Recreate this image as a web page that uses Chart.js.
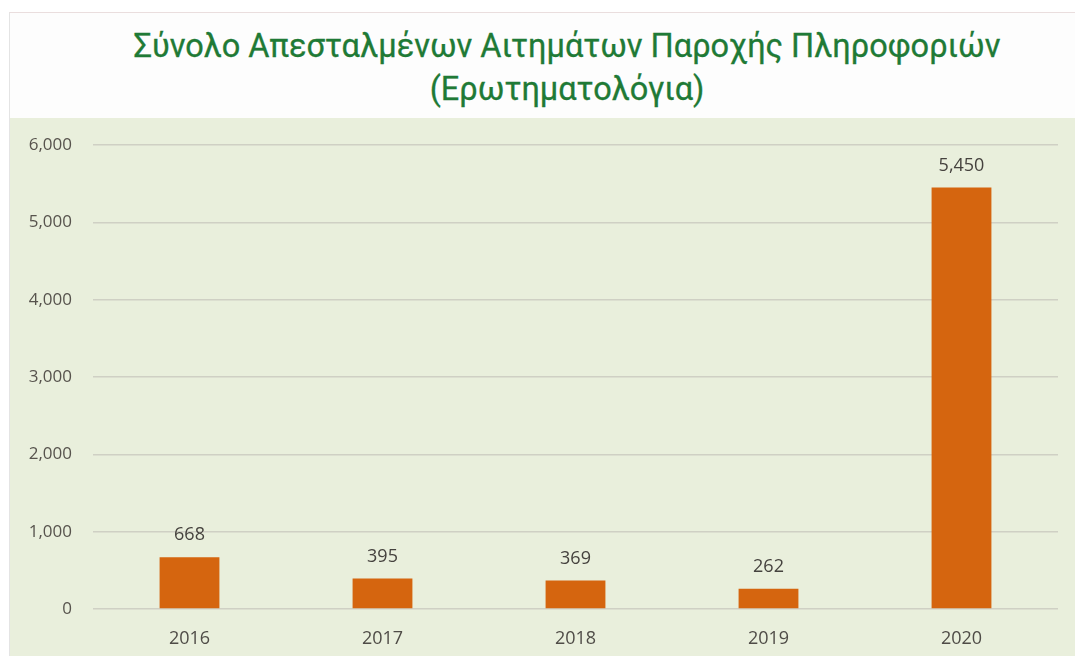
<!DOCTYPE html>
<html>
<head>
<meta charset="utf-8">
<script src="https://cdn.jsdelivr.net/npm/chart.js@4/dist/chart.umd.min.js"></script>
<style>
    html, body { margin: 0; padding: 0; background: #ffffff; }
    body { width: 1075px; height: 656px; overflow: hidden; position: relative; }
    .frame {
        position: absolute; left: 9px; top: 12px; width: 1066px; height: 644px;
        border-top: 1px solid #eadede; border-left: 1px solid #e4e4e4;
        background: #fdfdfd;
    }
    .title {
        height: 105px; box-sizing: border-box; padding: 12px 0 0 48px;
        text-align: center; color: #1f7a36; font-weight: 400;
        font-family: Roboto, "Noto Sans", sans-serif; font-size: 32.5px; line-height: 43px;
        -webkit-text-stroke: 0.3px #1f7a36;
    }
    .plot { position: relative; width: 1065px; height: 538px; background: #e9efdc; }
    .plot canvas { display: block; }
</style>
</head>
<body>
<div class="frame">
    <div class="title">Σύνολο Απεσταλμένων Αιτημάτων Παροχής Πληροφοριών<br>(Ερωτηματολόγια)</div>
    <div class="plot"><canvas id="requestsChart" width="1065" height="538"></canvas></div>
</div>
<script>
// Chart data
const years = ['2016', '2017', '2018', '2019', '2020'];
const requestCounts = [668, 395, 369, 262, 5450];
const yTicks = [0, 1000, 2000, 3000, 4000, 5000, 6000];

// wanted plot area edges inside the canvas
const areaTop = 27;
const areaBottom = 491;

function formatNumber(n) {
    return n.toLocaleString('en-US');
}

// Value labels above each bar
const barLabels = {
    id: 'barLabels',
    afterDatasetsDraw(chart) {
        const ctx = chart.ctx;
        const meta = chart.getDatasetMeta(0);
        ctx.save();
        ctx.font = '18px "Open Sans", sans-serif';
        ctx.fillStyle = '#45423e';
        ctx.textAlign = 'center';
        ctx.textBaseline = 'middle';
        meta.data.forEach((bar, i) => {
            ctx.fillText(formatNumber(requestCounts[i]), bar.x, bar.y - 22);
        });
        ctx.restore();
    }
};

const ctx = document.getElementById('requestsChart').getContext('2d');
const chart = new Chart(ctx, {
    type: 'bar',
    data: {
        labels: years,
        datasets: [{
            data: requestCounts,
            backgroundColor: '#d5650f',
            barPercentage: 0.31,
            categoryPercentage: 1
        }]
    },
    options: {
        responsive: false,
        animation: false,
        layout: { padding: { top: areaTop, right: 17, left: 0, bottom: 0 } },
        plugins: {
            legend: { display: false },
            tooltip: { enabled: false }
        },
        scales: {
            x: {
                grid: { display: false },
                border: { display: false },
                ticks: {
                    color: '#4f4c47',
                    font: { family: '"Open Sans", sans-serif', size: 18 },
                    padding: 11
                },
                afterFit(scale) { scale.height = 538 - areaBottom; }
            },
            y: {
                min: 0,
                max: 6000,
                afterBuildTicks(scale) {
                    scale.ticks = yTicks.map(v => ({ value: v }));
                },
                // invisible tick marks keep the labels away from the grid
                grid: { color: '#cfd0c4', lineWidth: 1.5, drawTicks: true, tickLength: 20, tickColor: 'rgba(0,0,0,0)' },
                border: { display: false },
                ticks: {
                    color: '#57534d',
                    font: { family: '"Open Sans", sans-serif', size: 17 },
                    padding: 1,
                    callback: v => formatNumber(v)
                },
                afterFit(scale) { scale.width = 83; }
            }
        }
    },
    plugins: [barLabels]
});

// nudge the top padding if the plot area doesn't start where we want it
for (let i = 0; i < 4; i++) {
    const diff = areaTop - chart.chartArea.top;
    if (Math.abs(diff) < 0.5) break;
    chart.options.layout.padding.top += diff;
    chart.update();
}
</script>
</body>
</html>
